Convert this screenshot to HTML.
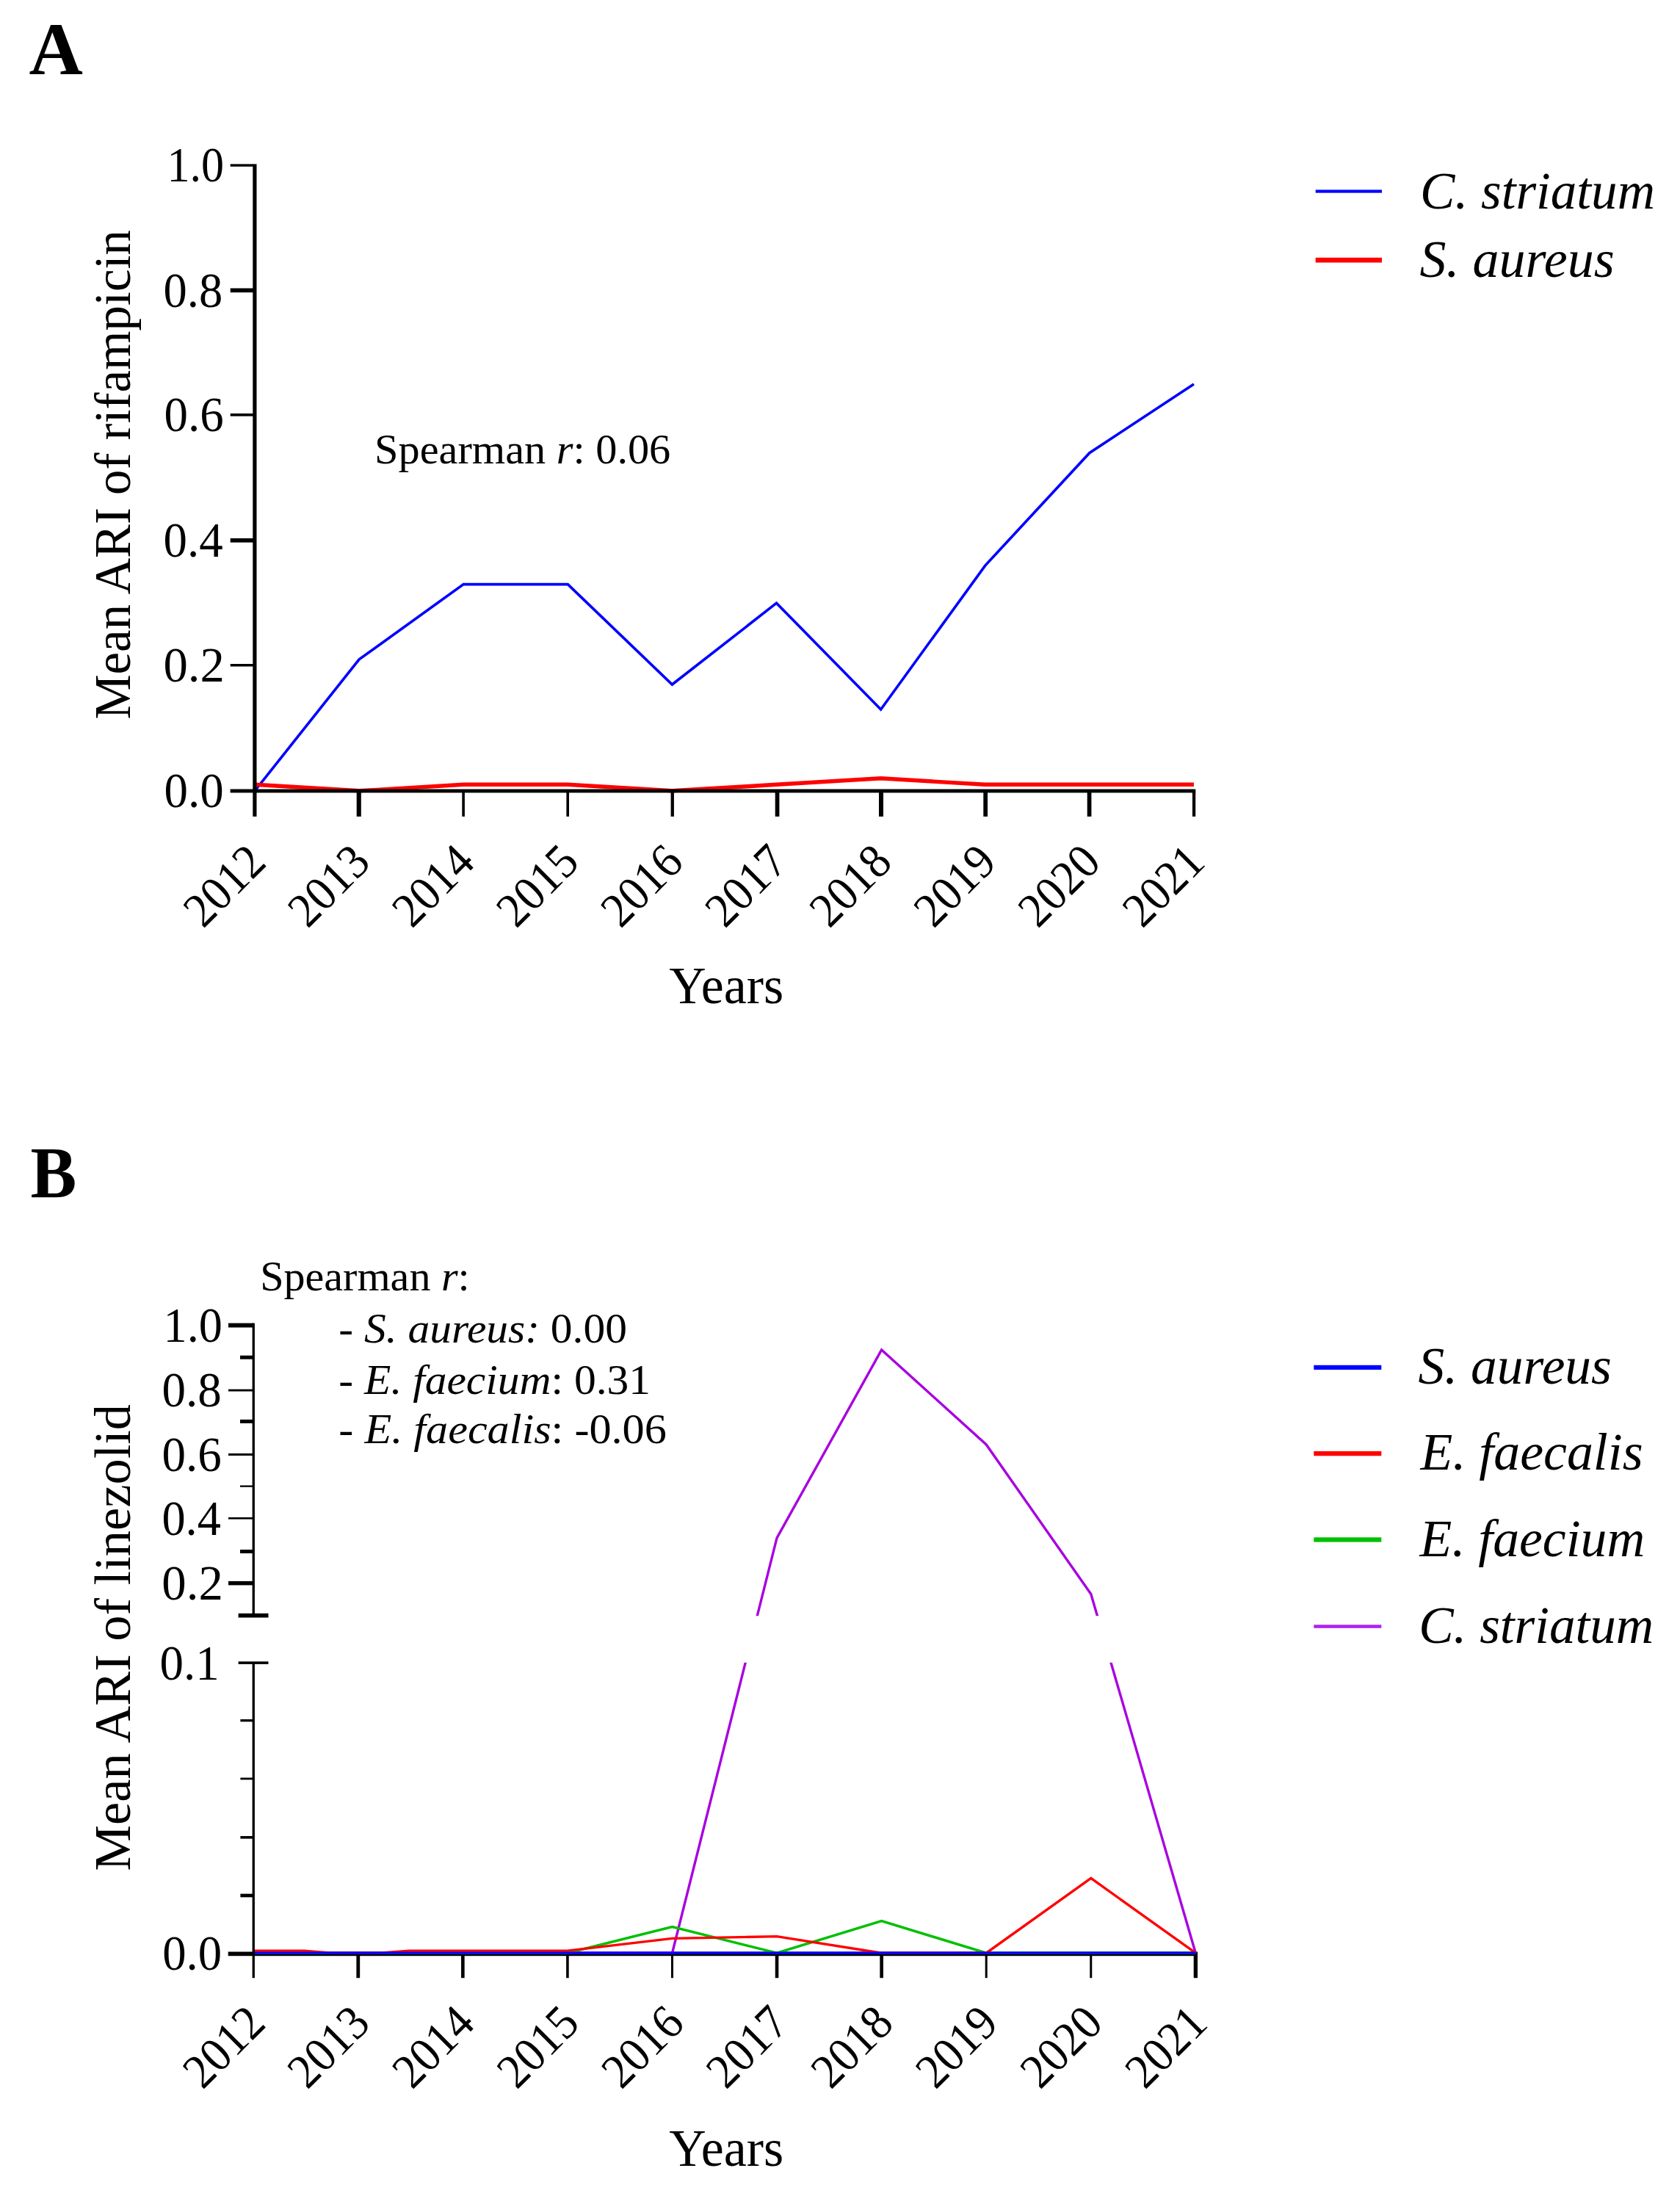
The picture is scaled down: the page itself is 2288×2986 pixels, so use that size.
<!DOCTYPE html>
<html><head><meta charset="utf-8"><title>Figure</title>
<style>
html,body{margin:0;padding:0;background:#fff;}
svg{display:block;filter:blur(0.7px);}
text{font-family:"Liberation Serif", "Times New Roman", Times, serif;fill:#000;}
</style></head>
<body>
<svg width="2288" height="2986" viewBox="0 0 2288 2986">
<rect width="2288" height="2986" fill="#fff"/>
<text id="LA" transform="translate(39.49,101.00) scale(1.0059,1)" font-size="101" font-weight="bold" font-style="normal">A</text>
<text id="LB" transform="translate(41.41,1630.00) scale(0.9509,1)" font-size="99" font-weight="bold" font-style="normal">B</text>
<polyline points="347.0,1076.8 489.1,897.9 631.2,795.6 773.3,795.6 915.4,932.0 1057.5,821.2 1199.6,966.0 1341.7,770.1 1483.8,616.7 1625.9,523.0" fill="none" stroke="#0000ff" stroke-width="3.6" stroke-linejoin="miter" />
<polyline points="347.0,1068.3 489.1,1076.8 631.2,1068.3 773.3,1068.3 915.4,1076.8 1057.5,1068.3 1199.6,1059.8 1341.7,1068.3 1483.8,1068.3 1625.9,1068.3" fill="none" stroke="#ff0000" stroke-width="5.4" stroke-linejoin="miter" />
<rect x="344.30" y="223.40" width="5.20" height="888.40" fill="#000"/>
<rect x="313.60" y="1074.50" width="1314.60" height="4.90" fill="#000"/>
<rect x="313.70" y="223.40" width="31.30" height="3.40" fill="#000"/>
<rect x="313.70" y="392.50" width="31.30" height="5.70" fill="#000"/>
<rect x="313.70" y="563.00" width="31.30" height="3.70" fill="#000"/>
<rect x="313.70" y="732.90" width="31.30" height="5.70" fill="#000"/>
<rect x="313.70" y="904.00" width="31.30" height="3.50" fill="#000"/>
<rect x="485.70" y="1076.00" width="6.10" height="35.80" fill="#000"/>
<rect x="629.30" y="1076.00" width="3.60" height="35.80" fill="#000"/>
<rect x="771.40" y="1076.00" width="3.60" height="35.80" fill="#000"/>
<rect x="913.60" y="1076.00" width="4.30" height="35.80" fill="#000"/>
<rect x="1055.70" y="1076.00" width="5.70" height="35.80" fill="#000"/>
<rect x="1197.00" y="1076.00" width="6.00" height="35.80" fill="#000"/>
<rect x="1339.30" y="1076.00" width="5.70" height="35.80" fill="#000"/>
<rect x="1480.70" y="1076.00" width="5.70" height="35.80" fill="#000"/>
<rect x="1623.90" y="1076.00" width="4.30" height="35.80" fill="#000"/>
<text id="A1.0" transform="translate(227.52,247.20) scale(0.9133,1)" font-size="68" font-weight="normal" font-style="normal">1.0</text>
<text id="A0.8" transform="translate(222.60,417.90) scale(0.9491,1)" font-size="68" font-weight="normal" font-style="normal">0.8</text>
<text id="A0.6" transform="translate(223.61,587.40) scale(0.9549,1)" font-size="68" font-weight="normal" font-style="normal">0.6</text>
<text id="A0.4" transform="translate(222.60,758.30) scale(0.9551,1)" font-size="68" font-weight="normal" font-style="normal">0.4</text>
<text id="A0.2" transform="translate(222.54,928.30) scale(0.9802,1)" font-size="68" font-weight="normal" font-style="normal">0.2</text>
<text id="A0.0" transform="translate(223.61,1099.40) scale(0.9548,1)" font-size="68" font-weight="normal" font-style="normal">0.0</text>
<text id="AX0" transform="translate(365.00,1177.00) rotate(-45) scale(0.9450,1)" font-size="66" text-anchor="end">2012</text>
<text id="AX1" transform="translate(507.10,1177.00) rotate(-45) scale(0.9450,1)" font-size="66" text-anchor="end">2013</text>
<text id="AX2" transform="translate(649.20,1177.00) rotate(-45) scale(0.9450,1)" font-size="66" text-anchor="end">2014</text>
<text id="AX3" transform="translate(791.30,1177.00) rotate(-45) scale(0.9450,1)" font-size="66" text-anchor="end">2015</text>
<text id="AX4" transform="translate(933.40,1177.00) rotate(-45) scale(0.9450,1)" font-size="66" text-anchor="end">2016</text>
<text id="AX5" transform="translate(1075.50,1177.00) rotate(-45) scale(0.9450,1)" font-size="66" text-anchor="end">2017</text>
<text id="AX6" transform="translate(1217.60,1177.00) rotate(-45) scale(0.9450,1)" font-size="66" text-anchor="end">2018</text>
<text id="AX7" transform="translate(1359.70,1177.00) rotate(-45) scale(0.9450,1)" font-size="66" text-anchor="end">2019</text>
<text id="AX8" transform="translate(1501.80,1177.00) rotate(-45) scale(0.9450,1)" font-size="66" text-anchor="end">2020</text>
<text id="AX9" transform="translate(1643.90,1177.00) rotate(-45) scale(0.9450,1)" font-size="66" text-anchor="end">2021</text>
<text id="AYL" transform="translate(177.00,646.30) rotate(-90) scale(0.9898,1)" font-size="69.5" text-anchor="middle">Mean ARI of rifampicin</text>
<text id="AXL" transform="translate(911.32,1366.00) scale(0.9832,1)" font-size="71" font-weight="normal" font-style="normal">Years</text>
<text id="ASP" transform="translate(510.06,631.40) scale(1.0055,1)" font-size="58" font-weight="normal" font-style="normal">Spearman <tspan font-style="italic">r</tspan>: 0.06</text>
<rect x="1791.70" y="258.40" width="90.30" height="4.20" fill="#0000ff"/>
<rect x="1791.70" y="350.80" width="90.30" height="6.70" fill="#ff0000"/>
<text id="AL1" transform="translate(1934.05,283.60) scale(0.9874,1)" font-size="72" font-weight="normal" font-style="italic">C. striatum</text>
<text id="AL2" transform="translate(1933.50,377.00) scale(1.0000,1)" font-size="72" font-weight="normal" font-style="italic">S. aureus</text>
<rect x="310.70" y="2657.50" width="1320.30" height="5.70" fill="#000"/>
<rect x="485.37" y="2660.00" width="4.80" height="33.20" fill="#000"/>
<rect x="628.04" y="2660.00" width="4.60" height="33.20" fill="#000"/>
<rect x="771.11" y="2660.00" width="3.60" height="33.20" fill="#000"/>
<rect x="913.98" y="2660.00" width="3.00" height="33.20" fill="#000"/>
<rect x="1055.75" y="2660.00" width="4.60" height="33.20" fill="#000"/>
<rect x="1198.32" y="2660.00" width="4.60" height="33.20" fill="#000"/>
<rect x="1341.69" y="2660.00" width="3.00" height="33.20" fill="#000"/>
<rect x="1484.26" y="2660.00" width="3.00" height="33.20" fill="#000"/>
<rect x="1625.68" y="2660.00" width="5.30" height="33.20" fill="#000"/>
<polyline points="345.2,2659.2 487.8,2659.2 630.3,2659.2 772.9,2659.2 915.5,2659.2 1058.0,2094.2 1200.6,1837.9 1343.2,1966.9 1485.8,2170.6 1628.3,2659.2" fill="none" stroke="#a800e0" stroke-width="3.4" stroke-linejoin="miter" />
<rect x="600.00" y="2200.20" width="1100.00" height="63.60" fill="#fff"/>
<polyline points="345.2,2659.2 487.8,2659.2 630.3,2659.2 772.9,2659.2 915.5,2623.6 1058.0,2659.2 1200.6,2615.6 1343.2,2659.2 1485.8,2659.2 1628.3,2659.2" fill="none" stroke="#00c000" stroke-width="3.4" stroke-linejoin="miter" />
<polyline points="344.2,2656.1 414.0,2656.1 452.0,2659.2 517.0,2659.2 557.0,2656.1 772.9,2656.1 915.5,2639.4 1058.0,2636.6 1200.6,2659.2 1343.2,2659.2 1485.8,2557.4 1628.3,2659.2" fill="none" stroke="#ff0000" stroke-width="3.4" stroke-linejoin="miter" />
<polyline points="345.2,2659.2 487.8,2659.2 630.3,2659.2 772.9,2659.2 915.5,2659.2 1058.0,2659.2 1200.6,2659.2 1343.2,2659.2 1485.8,2659.2 1628.3,2659.2" fill="none" stroke="#0000ff" stroke-width="3.3" stroke-linejoin="miter" />
<rect x="343.60" y="1801.60" width="3.30" height="398.40" fill="#000"/>
<rect x="343.60" y="2263.00" width="3.30" height="430.20" fill="#000"/>
<rect x="324.60" y="2196.80" width="40.90" height="5.70" fill="#000"/>
<rect x="324.60" y="2262.30" width="40.90" height="3.60" fill="#000"/>
<rect x="311.00" y="1801.60" width="34.00" height="5.90" fill="#000"/>
<rect x="311.00" y="1891.60" width="34.00" height="2.90" fill="#000"/>
<rect x="311.00" y="1979.00" width="34.00" height="3.00" fill="#000"/>
<rect x="311.00" y="2066.00" width="34.00" height="2.60" fill="#000"/>
<rect x="311.00" y="2152.90" width="34.00" height="5.50" fill="#000"/>
<rect x="327.00" y="1845.70" width="18.00" height="5.00" fill="#000"/>
<rect x="327.00" y="1932.90" width="18.00" height="5.00" fill="#000"/>
<rect x="327.00" y="2022.50" width="18.00" height="2.30" fill="#000"/>
<rect x="327.00" y="2110.00" width="18.00" height="5.00" fill="#000"/>
<rect x="327.40" y="2341.00" width="17.60" height="3.30" fill="#000"/>
<rect x="327.40" y="2420.50" width="17.60" height="2.80" fill="#000"/>
<rect x="327.40" y="2500.00" width="17.60" height="3.60" fill="#000"/>
<rect x="327.40" y="2578.60" width="17.60" height="4.70" fill="#000"/>
<text id="B1.0" transform="translate(222.51,1826.90) scale(0.9451,1)" font-size="68" font-weight="normal" font-style="normal">1.0</text>
<text id="B0.8" transform="translate(220.40,1915.40) scale(0.9570,1)" font-size="68" font-weight="normal" font-style="normal">0.8</text>
<text id="B0.6" transform="translate(220.40,2002.90) scale(0.9573,1)" font-size="68" font-weight="normal" font-style="normal">0.6</text>
<text id="B0.4" transform="translate(220.43,2089.70) scale(0.9458,1)" font-size="68" font-weight="normal" font-style="normal">0.4</text>
<text id="B0.2" transform="translate(220.36,2178.00) scale(0.9824,1)" font-size="68" font-weight="normal" font-style="normal">0.2</text>
<text id="B0.1" transform="translate(217.59,2286.90) scale(0.9562,1)" font-size="68" font-weight="normal" font-style="normal">0.1</text>
<text id="B0.0" transform="translate(221.24,2682.10) scale(0.9521,1)" font-size="68" font-weight="normal" font-style="normal">0.0</text>
<text id="BX0" transform="translate(364.20,2758.00) rotate(-45) scale(0.9450,1)" font-size="66" text-anchor="end">2012</text>
<text id="BX1" transform="translate(506.77,2758.00) rotate(-45) scale(0.9450,1)" font-size="66" text-anchor="end">2013</text>
<text id="BX2" transform="translate(649.34,2758.00) rotate(-45) scale(0.9450,1)" font-size="66" text-anchor="end">2014</text>
<text id="BX3" transform="translate(791.91,2758.00) rotate(-45) scale(0.9450,1)" font-size="66" text-anchor="end">2015</text>
<text id="BX4" transform="translate(934.48,2758.00) rotate(-45) scale(0.9450,1)" font-size="66" text-anchor="end">2016</text>
<text id="BX5" transform="translate(1077.05,2758.00) rotate(-45) scale(0.9450,1)" font-size="66" text-anchor="end">2017</text>
<text id="BX6" transform="translate(1219.62,2758.00) rotate(-45) scale(0.9450,1)" font-size="66" text-anchor="end">2018</text>
<text id="BX7" transform="translate(1362.19,2758.00) rotate(-45) scale(0.9450,1)" font-size="66" text-anchor="end">2019</text>
<text id="BX8" transform="translate(1504.76,2758.00) rotate(-45) scale(0.9450,1)" font-size="66" text-anchor="end">2020</text>
<text id="BX9" transform="translate(1647.33,2758.00) rotate(-45) scale(0.9450,1)" font-size="66" text-anchor="end">2021</text>
<text id="BYL" transform="translate(177.00,2229.80) rotate(-90) scale(1.0132,1)" font-size="69.5" text-anchor="middle">Mean ARI of linezolid</text>
<text id="BXL" transform="translate(911.32,2949.00) scale(0.9832,1)" font-size="71" font-weight="normal" font-style="normal">Years</text>
<text id="BS0" transform="translate(354.21,1757.00) scale(1.0192,1)" font-size="57" font-weight="normal" font-style="normal">Spearman <tspan font-style="italic">r</tspan>:</text>
<text id="BS1" transform="translate(461.31,1827.50) scale(1.0435,1)" font-size="57" font-weight="normal" font-style="normal">- <tspan font-style="italic">S. aureus:</tspan> 0.00</text>
<text id="BS2" transform="translate(461.33,1898.20) scale(1.0443,1)" font-size="57" font-weight="normal" font-style="normal">- <tspan font-style="italic">E. faecium</tspan>: 0.31</text>
<text id="BS3" transform="translate(461.30,1965.00) scale(1.0567,1)" font-size="57" font-weight="normal" font-style="normal">- <tspan font-style="italic">E. faecalis</tspan>: -0.06</text>
<rect x="1789.30" y="1858.80" width="92.00" height="6.20" fill="#0000ff"/>
<rect x="1789.30" y="1976.00" width="92.00" height="6.30" fill="#ff0000"/>
<rect x="1789.30" y="2093.30" width="92.00" height="6.30" fill="#00c000"/>
<rect x="1789.30" y="2212.30" width="92.00" height="4.50" fill="#b020f0"/>
<text id="BL1" transform="translate(1931.61,1884.30) scale(0.9924,1)" font-size="72" font-weight="normal" font-style="italic">S. aureus</text>
<text id="BL2" transform="translate(1934.59,2001.20) scale(0.9973,1)" font-size="72" font-weight="normal" font-style="italic">E. faecalis</text>
<text id="BL3" transform="translate(1933.59,2118.80) scale(0.9959,1)" font-size="72" font-weight="normal" font-style="italic">E. faecium</text>
<text id="BL4" transform="translate(1932.14,2236.80) scale(0.9880,1)" font-size="72" font-weight="normal" font-style="italic">C. striatum</text>
</svg>
</body></html>
